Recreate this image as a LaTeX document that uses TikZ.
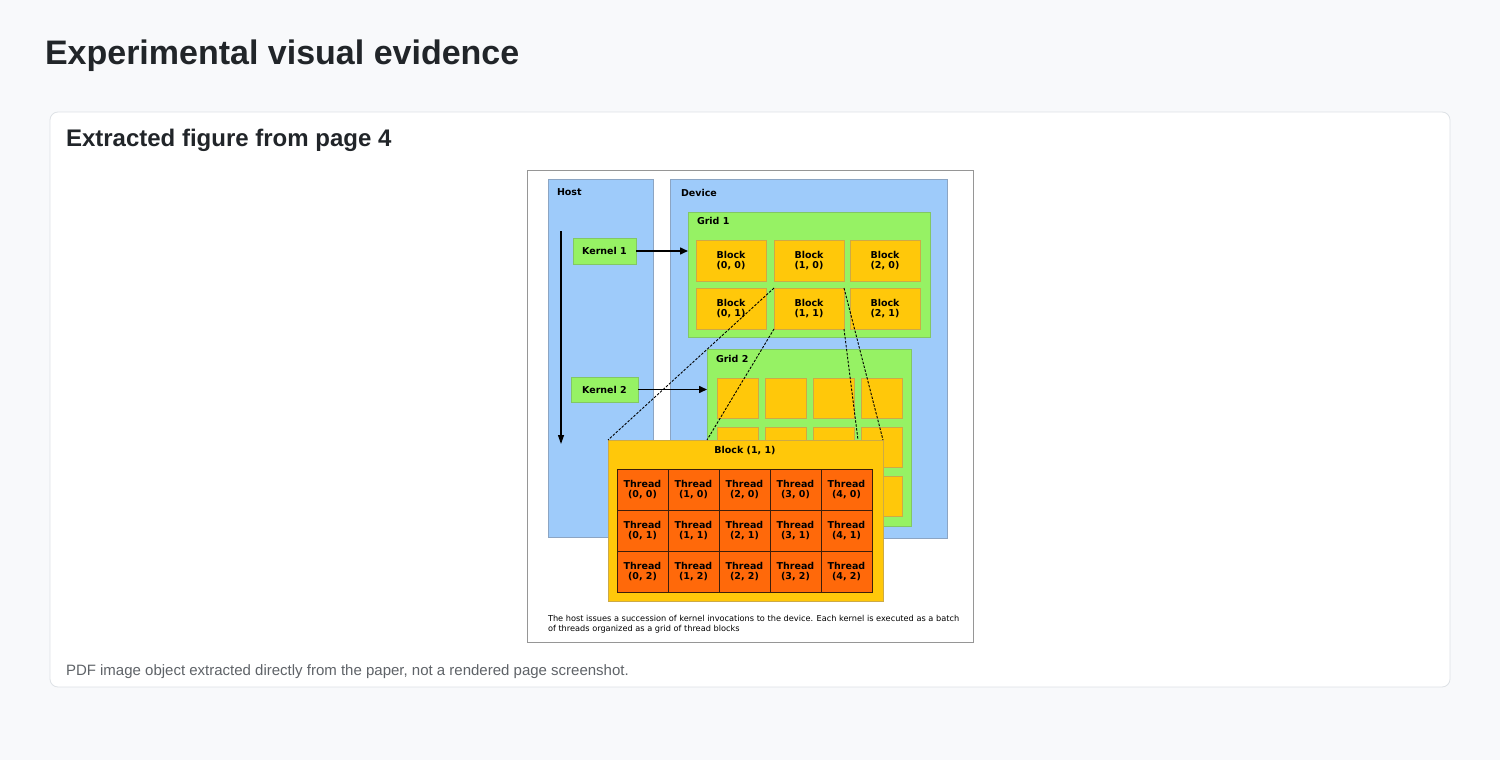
\documentclass[tikz,border=0pt]{standalone}
\usepackage{fontspec}
\setmainfont{Liberation Sans}
\newfontfamily\figfont{DejaVu Sans}
\usetikzlibrary{arrows.meta,positioning}
\definecolor{pagebg}{RGB}{248,249,251}
\definecolor{cardline}{RGB}{222,226,230}
\definecolor{titleink}{RGB}{33,37,41}
\definecolor{noteink}{RGB}{95,99,104}
\definecolor{frameline}{RGB}{150,150,150}
\definecolor{hostblue}{RGB}{158,203,250}
\definecolor{hostedge}{RGB}{140,165,195}
\definecolor{gridgreen}{RGB}{150,242,100}
\definecolor{gridedge}{RGB}{130,200,100}
\definecolor{blockgold}{RGB}{255,200,10}
\definecolor{blockedge}{RGB}{205,170,70}
\definecolor{threadorange}{RGB}{255,105,10}
\definecolor{threadedge}{RGB}{60,30,10}

\begin{document}
\begin{tikzpicture}[x=1pt,y=-1pt,>=Stealth,
  every node/.style={inner sep=0pt,outer sep=0pt},
  figtext/.style={font=\figfont\bfseries\fontsize{9.5}{10.5}\selectfont,text=black},
  area/.style={draw=hostedge,fill=hostblue,anchor=north west,line width=0.8pt},
  gridbox/.style={draw=gridedge,fill=gridgreen,anchor=north west,line width=0.8pt},
  blockbox/.style={draw=blockedge,fill=blockgold,anchor=north west,line width=0.8pt,
    minimum width=70,minimum height=41,align=center,figtext},
  smallblock/.style={draw=blockedge,fill=blockgold,anchor=north west,line width=0.8pt,
    minimum width=41,minimum height=40},
  kernelbox/.style={draw=gridedge,fill=gridgreen,anchor=north west,line width=0.8pt,figtext},
  threadbox/.style={draw=threadedge,fill=threadorange,anchor=north west,line width=0.9pt,
    minimum width=51,minimum height=41,align=center,figtext},
  lbl/.style={anchor=base west,figtext},
  zoomline/.style={line width=0.9pt,dash pattern=on 2.5pt off 1.5pt},
  callarrow/.style={-{Triangle[length=8pt,width=7pt]},line width=1.5pt},
]
% page and card
\fill[pagebg] (0,0) rectangle (1500,760);
\useasboundingbox (0,0) rectangle (1500,760);
\node[anchor=base west,font=\bfseries\fontsize{34}{40}\selectfont,text=titleink] (title) at (45,65) {Experimental visual evidence};
\node[draw=cardline,fill=white,rounded corners=8pt,anchor=north west,minimum width=1400,minimum height=575,line width=0.8pt] (card) at (50,112) {};
\node[anchor=base west,font=\bfseries\fontsize{24}{28}\selectfont,text=titleink] (subtitle) at (66,146) {Extracted figure from page 4};
\node[anchor=base west,font=\fontsize{15}{18}\selectfont,text=noteink] (note) at (66,675) {PDF image object extracted directly from the paper, not a rendered page screenshot.};

% extracted figure
\node[draw=frameline,fill=white,anchor=north west,minimum width=446,minimum height=472,line width=0.8pt] (frame) at (527,170) {};
\node[area,minimum width=105,minimum height=358] (host) at (548,179) {};
\node[area,minimum width=277,minimum height=359] (device) at (670,179) {};
\node[lbl] (hostlbl) at (557,195) {Host};
\node[lbl] (devlbl) at (681,196) {Device};

% grid 1
\node[gridbox,minimum width=242,minimum height=125] (grid1) at (688,212) {};
\node[lbl] (g1lbl) at (697,224) {Grid 1};
\foreach \i/\x in {0/696,1/774,2/850}
  \foreach \j/\y in {0/240,1/288}
    \node[blockbox] (g1b\i\j) at (\x,\y) {Block\\(\i, \j)};

% grid 2
\node[gridbox,minimum width=204,minimum height=177] (grid2) at (707,349) {};
\node[lbl] (g2lbl) at (716,362) {Grid 2};
\foreach \i in {0,...,3}
  \foreach \j in {0,1,2}
    \node[smallblock] (g2b\i\j) at (717+48*\i,378+49*\j) {};

% kernels on the host
\node[kernelbox,minimum width=63,minimum height=26] (k1) at (573,238) {Kernel 1};
\node[kernelbox,minimum width=67,minimum height=25] (k2) at (571,377) {Kernel 2};
\draw[callarrow] (k1.east) -- (k1.east -| grid1.west);
\draw[callarrow] (k2.east) -- (k2.east -| grid2.west);
\coordinate (tstart) at (561,231);
\coordinate (tend) at (561,444);
\draw[-{Triangle[length=9pt,width=6pt]},line width=1.2pt] (tstart) -- (tend);

% zoomed block
\node[draw=blockedge,fill=blockgold,anchor=north west,minimum width=275,minimum height=161,line width=0.8pt] (big) at (608,440) {};
\coordinate (bigin) at (707,440);
\coordinate (bigmid) at (858,440);
\draw[zoomline] (g1b11.north west) -- (big.north west);
\draw[zoomline] (g1b11.south west) -- (bigin);
\draw[zoomline] (g1b11.north east) -- (big.north east);
\draw[zoomline] (g1b11.south east) -- (bigmid);
\node[anchor=base,figtext] (biglbl) at (745,453) {Block (1, 1)};
\foreach \i in {0,...,4}
  \foreach \j in {0,1,2}
    \node[threadbox] (t\i\j) at (617+51*\i,469+41*\j) {Thread\\(\i, \j)};

\node[anchor=base west,align=left,font=\figfont\fontsize{8.2}{9.5}\selectfont,text=black] (caption) at (548,631)
  {The host issues a succession of kernel invocations to the device. Each kernel is executed as a batch\\of threads organized as a grid of thread blocks};
\end{tikzpicture}
\end{document}
